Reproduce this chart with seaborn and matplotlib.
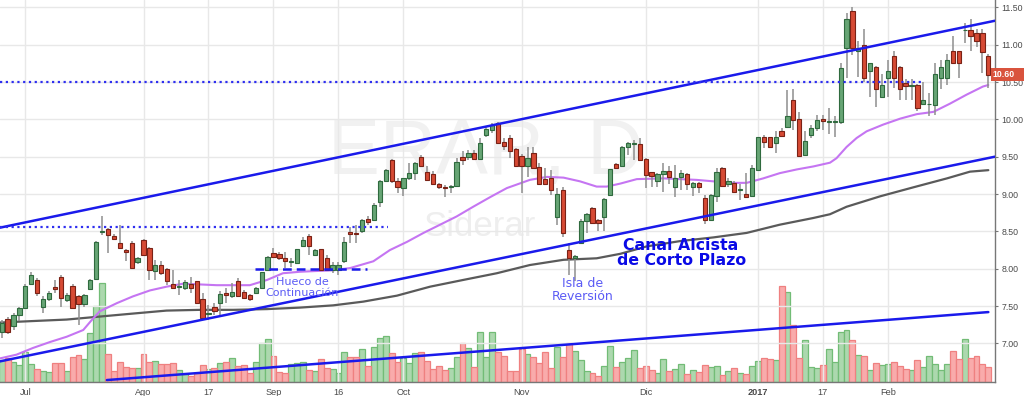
import numpy as np
import pandas as pd
import matplotlib
matplotlib.use("Agg")
import matplotlib.pyplot as plt
import matplotlib.transforms as mtransforms
from matplotlib.patches import Rectangle
import seaborn as sns

# --- Datos: ERAR (Siderar), velas diarias jun-2016 / feb-2017 ---
opens = [7.16, 7.33, 7.23, 7.38, 7.47, 7.80, 7.85, 7.49, 7.59, 7.76,
         7.89, 7.58, 7.77, 7.63, 7.53, 7.73, 7.86, 8.49, 8.53, 8.44,
         8.35, 8.25, 8.35, 8.09, 8.38, 8.28, 7.97, 8.05, 8.00, 7.80,
         7.76, 7.74, 7.80, 7.83, 7.60, 7.39, 7.49, 7.54, 7.67, 7.64,
         7.84, 7.69, 7.65, 7.68, 7.74, 7.99, 8.21, 8.20, 8.15, 8.09,
         8.08, 8.30, 8.44, 8.19, 8.26, 8.15, 7.99, 7.98, 8.10, 8.49,
         8.48, 8.51, 8.66, 8.65, 8.90, 9.18, 9.46, 9.18, 9.08, 9.21,
         9.28, 9.49, 9.29, 9.27, 9.13, 9.09, 9.09, 9.11, 9.49, 9.49,
         9.55, 9.47, 9.79, 9.86, 9.95, 9.70, 9.75, 9.60, 9.51, 9.38,
         9.55, 9.36, 9.20, 9.21, 8.69, 9.05, 8.25, 8.14, 8.34, 8.64,
         8.82, 8.65, 8.69, 8.99, 9.40, 9.38, 9.63, 9.67, 9.67, 9.47,
         9.29, 9.18, 9.27, 9.31, 9.09, 9.23, 9.27, 9.10, 9.15, 8.95,
         8.65, 8.98, 9.35, 9.14, 9.15, 9.05, 9.00, 8.98, 9.32, 9.76,
         9.76, 9.69, 9.85, 9.90, 10.26, 10.00, 9.52, 9.79, 9.88, 10.00,
         9.97, 9.97, 9.97, 10.95, 11.45, 10.91, 11.00, 10.65, 10.70, 10.30,
         10.55, 10.85, 10.70, 10.49, 10.45, 10.46, 10.20, 10.20, 10.19, 10.55,
         10.55, 10.91, 10.91, 11.19, 11.20, 11.15, 11.15, 10.85]
highs = [7.31, 7.35, 7.41, 7.49, 7.80, 7.95, 7.88, 7.63, 7.70, 7.85,
         7.91, 7.67, 7.79, 7.65, 7.66, 7.86, 8.37, 8.70, 8.55, 8.46,
         8.59, 8.27, 8.37, 8.16, 8.40, 8.29, 8.12, 8.10, 8.01, 7.98,
         7.85, 7.85, 7.89, 7.84, 7.67, 7.51, 7.54, 7.70, 7.74, 7.81,
         7.87, 7.71, 7.66, 7.76, 7.96, 8.17, 8.28, 8.22, 8.22, 8.14,
         8.27, 8.43, 8.46, 8.26, 8.27, 8.18, 8.09, 8.09, 8.43, 8.56,
         8.59, 8.67, 8.70, 8.88, 9.19, 9.34, 9.47, 9.22, 9.22, 9.42,
         9.43, 9.52, 9.38, 9.31, 9.15, 9.12, 9.12, 9.48, 9.57, 9.59,
         9.59, 9.75, 9.90, 9.95, 9.97, 9.75, 9.79, 9.61, 9.53, 9.63,
         9.63, 9.42, 9.35, 9.32, 9.08, 9.10, 8.34, 8.19, 8.66, 8.75,
         8.83, 8.66, 8.95, 9.34, 9.41, 9.65, 9.70, 9.73, 9.75, 9.48,
         9.30, 9.28, 9.42, 9.37, 9.39, 9.32, 9.28, 9.16, 9.16, 8.99,
         9.00, 9.35, 9.36, 9.21, 9.17, 9.14, 9.28, 9.39, 9.77, 9.79,
         9.77, 9.84, 9.89, 10.39, 10.40, 10.10, 9.84, 9.93, 10.06, 10.06,
         10.15, 10.04, 10.75, 11.42, 11.51, 11.05, 11.21, 10.76, 10.71, 10.61,
         10.80, 10.91, 10.71, 10.54, 10.54, 10.47, 10.50, 10.35, 10.76, 10.80,
         10.88, 11.11, 10.92, 11.29, 11.35, 11.21, 11.21, 10.88]
lows = [7.07, 7.13, 7.18, 7.30, 7.46, 7.78, 7.63, 7.41, 7.57, 7.68,
        7.49, 7.56, 7.47, 7.25, 7.49, 7.71, 7.85, 8.45, 8.21, 8.38,
        8.26, 8.11, 8.00, 8.07, 8.17, 7.85, 7.85, 7.92, 7.78, 7.73,
        7.65, 7.72, 7.68, 7.53, 7.33, 7.31, 7.38, 7.36, 7.54, 7.61,
        7.62, 7.59, 7.57, 7.66, 7.73, 7.98, 8.14, 8.12, 8.01, 8.02,
        8.07, 8.29, 8.18, 8.17, 7.98, 7.98, 7.94, 7.92, 8.08, 8.34,
        8.35, 8.48, 8.59, 8.64, 8.83, 9.16, 9.15, 9.02, 8.97, 9.19,
        9.19, 9.36, 9.17, 9.12, 9.07, 8.96, 9.02, 9.10, 9.39, 9.46,
        9.46, 9.46, 9.77, 9.82, 9.67, 9.59, 9.48, 9.36, 9.01, 9.23,
        9.33, 9.12, 9.12, 8.99, 8.59, 8.42, 7.91, 7.83, 8.33, 8.48,
        8.60, 8.51, 8.51, 8.98, 9.33, 9.36, 9.52, 9.46, 9.44, 9.08,
        9.10, 9.10, 9.03, 9.13, 8.96, 9.05, 9.06, 8.97, 9.01, 8.60,
        8.64, 8.90, 9.10, 9.10, 9.01, 8.92, 8.95, 8.97, 9.31, 9.61,
        9.62, 9.55, 9.76, 9.89, 9.86, 9.50, 9.51, 9.75, 9.84, 9.86,
        9.81, 9.76, 9.94, 10.56, 10.86, 10.57, 10.50, 10.30, 10.16, 10.29,
        10.30, 10.42, 10.26, 10.26, 10.26, 10.11, 10.19, 10.05, 10.06, 10.40,
        10.46, 10.74, 10.55, 11.02, 10.91, 10.97, 10.62, 10.42]
closes = [7.27, 7.15, 7.38, 7.47, 7.77, 7.92, 7.68, 7.60, 7.68, 7.73,
          7.61, 7.65, 7.48, 7.53, 7.65, 7.85, 8.36, 8.50, 8.45, 8.40,
          8.28, 8.22, 8.01, 8.14, 8.18, 7.98, 8.05, 7.94, 7.83, 7.74,
          7.77, 7.82, 7.74, 7.54, 7.34, 7.40, 7.43, 7.66, 7.65, 7.69,
          7.64, 7.61, 7.59, 7.74, 7.95, 8.16, 8.16, 8.15, 8.10, 8.10,
          8.26, 8.38, 8.30, 8.25, 7.99, 7.99, 8.05, 8.05, 8.36, 8.47,
          8.46, 8.65, 8.63, 8.86, 9.18, 9.32, 9.17, 9.09, 9.21, 9.28,
          9.41, 9.38, 9.19, 9.13, 9.10, 9.08, 9.10, 9.43, 9.45, 9.55,
          9.47, 9.69, 9.87, 9.93, 9.69, 9.64, 9.58, 9.38, 9.38, 9.48,
          9.35, 9.14, 9.14, 9.06, 9.00, 8.48, 8.15, 8.17, 8.64, 8.73,
          8.61, 8.61, 8.94, 9.33, 9.35, 9.63, 9.68, 9.68, 9.46, 9.26,
          9.24, 9.27, 9.31, 9.23, 9.22, 9.28, 9.14, 9.15, 9.09, 8.65,
          8.99, 9.30, 9.11, 9.17, 9.03, 9.06, 8.96, 9.35, 9.76, 9.70,
          9.63, 9.76, 9.78, 10.05, 9.99, 9.51, 9.71, 9.88, 9.99, 9.98,
          9.98, 9.98, 10.69, 11.35, 10.95, 10.95, 10.55, 10.75, 10.40, 10.46,
          10.65, 10.55, 10.40, 10.45, 10.46, 10.15, 10.26, 10.21, 10.61, 10.70,
          10.80, 10.75, 10.75, 11.20, 11.11, 11.05, 10.90, 10.60]
# volumen (miles de acciones)
volumes = [220, 240, 200, 170, 300, 180, 130, 110, 100, 190,
           190, 110, 250, 270, 230, 490, 760, 990, 280, 110,
           200, 150, 140, 140, 280, 200, 210, 180, 180, 190,
           120, 80, 60, 90, 170, 130, 140, 190, 200, 240,
           160, 170, 90, 200, 390, 430, 260, 100, 90, 180,
           190, 200, 120, 110, 230, 140, 130, 90, 300, 250,
           250, 330, 160, 350, 440, 460, 290, 200, 240, 190,
           290, 300, 210, 130, 160, 120, 140, 250, 390, 340,
           150, 500, 250, 500, 300, 260, 110, 110, 330, 280,
           250, 190, 300, 140, 350, 250, 390, 310, 220, 110,
           90, 60, 160, 360, 150, 200, 240, 320, 140, 160,
           120, 90, 230, 110, 130, 180, 80, 120, 100, 170,
           150, 160, 70, 110, 140, 90, 80, 160, 210, 240,
           230, 220, 960, 900, 570, 240, 420, 150, 140, 170,
           330, 200, 500, 520, 420, 270, 260, 120, 190, 170,
           180, 200, 160, 130, 120, 220, 150, 260, 180, 120,
           180, 310, 230, 430, 240, 260, 180, 150]

# medias moviles (posicion de vela, precio)
ma_fast_x = [-0.3, 2.5, 5.3, 8.2, 11.0, 13.8, 15.2, 16.6, 19.5, 22.2, 25.1, 27.9,
             30.7, 33.6, 36.4, 39.2, 42.0, 44.9, 47.6, 50.5, 53.3, 56.1, 59.0,
             62.9, 65.7, 68.6, 71.4, 74.2, 77.0, 79.8, 82.7, 85.5, 89.4, 92.3,
             95.1, 97.9, 100.7, 102.4, 104.7, 107.5, 112.0, 117.6, 120.5, 123.3,
             126.1, 128.9, 131.7, 134.6, 137.4, 140.2, 141.3, 143.0, 144.7, 146.4,
             149.2, 152.1, 154.9, 157.7, 160.5, 163.3, 166.1, 167.0]
ma_fast_y = [6.80, 6.85, 6.94, 7.02, 7.09, 7.18, 7.31, 7.43, 7.54, 7.63, 7.71, 7.76,
             7.80, 7.79, 7.78, 7.78, 7.78, 7.85, 7.94, 7.96, 7.97, 7.98, 8.01,
             8.10, 8.25, 8.36, 8.48, 8.59, 8.70, 8.83, 8.96, 9.08, 9.19, 9.23,
             9.22, 9.17, 9.10, 9.10, 9.14, 9.20, 9.21, 9.19, 9.17, 9.15,
             9.15, 9.21, 9.28, 9.33, 9.37, 9.42, 9.48, 9.63, 9.75, 9.84,
             9.93, 10.01, 10.07, 10.10, 10.21, 10.33, 10.44, 10.46]
ma_slow_x = [-0.3, 5.3, 11.0, 16.6, 22.2, 27.9, 33.6, 39.2, 44.9, 50.5, 56.1, 61.2,
             66.9, 72.5, 78.1, 83.8, 89.4, 95.1, 100.7, 104.7, 109.2, 114.8, 120.5,
             126.1, 131.7, 137.4, 140.2, 143.0, 148.7, 154.3, 160.0, 163.9, 167.0]
ma_slow_y = [7.28, 7.30, 7.32, 7.36, 7.40, 7.44, 7.45, 7.45, 7.46, 7.48, 7.51, 7.56,
             7.64, 7.76, 7.85, 7.94, 8.05, 8.12, 8.14, 8.20, 8.30, 8.37, 8.42,
             8.48, 8.59, 8.68, 8.73, 8.83, 8.97, 9.09, 9.21, 9.30, 9.32]

# lineas de tendencia y niveles
canal_x = [-0.3, 168.1]
canal_sup_y = [8.55, 11.32]
canal_inf_y = [6.76, 9.50]
vol_trend_x = [17.8, 167.0]
vol_trend_y = [6.51, 7.42]
nivel_1, nivel_1_x = 8.565, [-0.3, 65.4]
nivel_2, nivel_2_x = 10.50, [-0.3, 156.0]
hueco, hueco_x = 8.00, [42.9, 61.8]
last_price = 10.60

tick_pos = [4, 24, 35, 46, 57, 68, 88, 109, 128, 139, 150]
tick_lbl = ['Jul', 'Ago', '17', 'Sep', '16', 'Oct', 'Nov', 'Dic', '2017', '17', 'Feb']
price_ticks = [7.0, 7.5, 8.0, 8.5, 9.0, 9.5, 10.0, 10.5, 11.0, 11.5]

# --- Figura ---
sns.set_style("white")
plt.rcParams['font.family'] = ['DejaVu Sans']

blue = '#1a1aeb'
xlim = (-0.29, 168.13)
ylim = (6.484, 11.598)

fig = plt.figure(figsize=(10.24, 3.96), dpi=100)
rect = [0, 14 / 396, 995 / 1024, 382 / 396]
vax = fig.add_axes(rect)
ax = fig.add_axes(rect)
ax.patch.set_visible(False)

o = np.array(opens)
h = np.array(highs)
l = np.array(lows)
c = np.array(closes)
idx = np.arange(len(c))
up = c >= o

# volumen
vol_df = pd.DataFrame({'idx': idx, 'vol': volumes, 'dir': np.where(up, 'up', 'down')})
sns.barplot(data=vol_df, x='idx', y='vol', hue='dir',
            palette={'up': '#acd8ae', 'down': '#f9abab'},
            native_scale=True, dodge=False, width=1.0, errorbar=None,
            saturation=1, legend=False, linewidth=0.9, ax=vax)
for p in vax.patches:
    fc = p.get_facecolor()
    p.set_edgecolor('#72bc76' if fc[1] > fc[0] else '#ef8080')
vax.set_xlim(xlim)
vax.set_ylim(0, 3820)
vax.axis('off')

# grid y ejes
ax.set_xlim(xlim)
ax.set_ylim(ylim)
ax.set_axisbelow(True)
ax.grid(True, color='#e8e8e8', lw=1)
ax.set_xticks(tick_pos)
ax.set_xticklabels(tick_lbl)
ax.set_yticks(price_ticks)
ax.set_yticklabels([f'{v:.2f}' for v in price_ticks])
ax.yaxis.tick_right()
ax.tick_params(axis='y', length=2.5, pad=2, color='#777777', labelsize=6.3,
               labelcolor='#4a4a4a', labelfontfamily='Liberation Sans')
ax.tick_params(axis='x', length=2.5, pad=1.5, color='#777777', labelsize=6.6,
               labelcolor='#4a4a4a', labelfontfamily='Liberation Sans')
for t in ax.get_xticklabels():
    if t.get_text() == '2017':
        t.set_fontweight('bold')
for s in ['left', 'top']:
    ax.spines[s].set_visible(False)
for s in ['right', 'bottom']:
    ax.spines[s].set_color('#777777')
    ax.spines[s].set_linewidth(1)

# marca de agua
ax.text(0.488, 0.597, 'ERAR, D', transform=ax.transAxes, ha='center', va='center',
        fontsize=56, color='#f1f1f1', family='Liberation Sans', zorder=0.5)
ax.text(0.482, 0.406, 'Siderar', transform=ax.transAxes, ha='center', va='center',
        fontsize=25, color='#eeeeee', family='Liberation Sans', zorder=0.5)

# medias moviles
sns.lineplot(x=ma_slow_x, y=ma_slow_y, ax=ax, color='#5a5a5a', lw=1.6, sort=False, zorder=2)
sns.lineplot(x=ma_fast_x, y=ma_fast_y, ax=ax, color='#c575f2', lw=1.5, sort=False, zorder=2)

# velas
ax.vlines(idx, l, h, color='#8e8e8e', lw=1.1, zorder=3)
body_lo = np.minimum(o, c)
body_h = np.maximum(np.abs(c - o), 0.012)
ax.bar(idx[up], body_h[up], bottom=body_lo[up], width=0.72, color='#67a575',
       edgecolor='#2f6a3e', lw=0.8, zorder=4)
ax.bar(idx[~up], body_h[~up], bottom=body_lo[~up], width=0.72, color='#d64a34',
       edgecolor='#7a2216', lw=0.8, zorder=4)

# tendencias y niveles
ax.plot(canal_x, canal_sup_y, color=blue, lw=1.8, zorder=5)
ax.plot(canal_x, canal_inf_y, color=blue, lw=1.8, zorder=5)
ax.plot(vol_trend_x, vol_trend_y, color=blue, lw=1.8, zorder=5)
ax.plot(nivel_1_x, [nivel_1, nivel_1], color='#2e2ef0', lw=1.6, ls=(0, (1, 1.6)), zorder=5)
ax.plot(nivel_2_x, [nivel_2, nivel_2], color='#2e2ef0', lw=1.6, ls=(0, (1, 1.6)), zorder=5)
ax.plot(hueco_x, [hueco, hueco], color=blue, lw=1.8, ls=(0, (3.5, 2)), zorder=5)

# anotaciones
ax.text(50.9, 7.75, 'Hueco de\nContinuación', ha='center', va='center',
        multialignment='center', fontsize=8, color='#5b5bf5', linespacing=1.05, zorder=6)
ax.text(98.3, 7.71, 'Isla de\nReversión', ha='center', va='center',
        multialignment='center', fontsize=9, color='#5b5bf5', linespacing=1.0, zorder=6)
ax.text(115.0, 8.21, 'Canal Alcista\nde Corto Plazo', ha='center', va='center',
        multialignment='center', fontsize=11.3, fontweight='bold', color='#0a0ae6',
        linespacing=1.0, zorder=6)

# etiqueta de ultimo precio
trans = mtransforms.blended_transform_factory(ax.transAxes, ax.transData)
ax.add_patch(Rectangle((0.996, last_price - 0.085), 0.04, 0.17, transform=trans,
                       facecolor='#d9533d', edgecolor='none', clip_on=False, zorder=10))
ax.text(1.0085, last_price, f'{last_price:.2f}', transform=trans, ha='center', va='center',
        color='white', fontsize=6.3, fontweight='bold', family='Liberation Sans',
        clip_on=False, zorder=11)

plt.savefig("out.png", dpi=100)
